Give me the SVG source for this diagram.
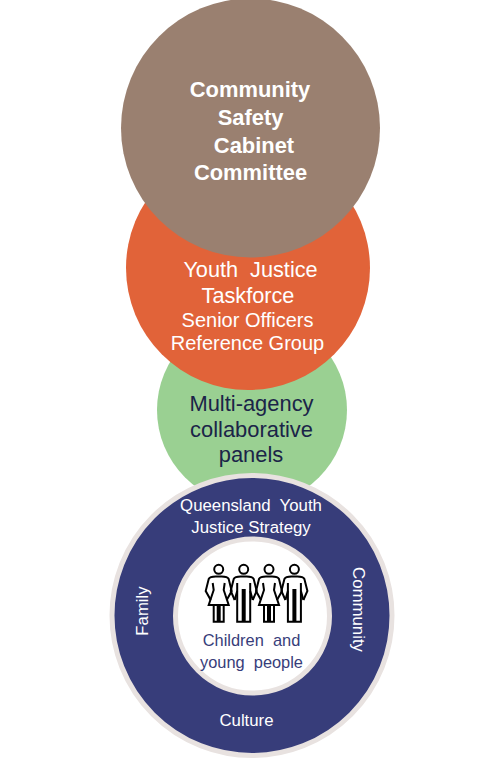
<svg xmlns="http://www.w3.org/2000/svg" width="496" height="759" viewBox="0 0 496 759">
<style>
text{font-family:"Liberation Sans",Arial,sans-serif;text-anchor:middle;white-space:pre}
.w{fill:#fff}
.b{font-weight:700;font-size:21.900px}
.o{font-size:21.700px}
.s{font-size:20px}
.g{font-size:21.900px;fill:#1b2448}
.r{font-size:16.800px;fill:#fff}
.c{font-size:16.400px;fill:#373d7a}
.p{fill:none;stroke:#000;stroke-width:2;stroke-linejoin:miter}
</style>
<defs>
<g id="girl" class="p">
<circle cx="0" cy="-22.700" r="4.500"/>
<path d="M-8,8L-13,-1L-10,-13C-9,-15 -6,-15.500 -3,-15.500H3C6,-15.500 9,-15 10,-13L13,-1L8,8"/>
<path d="M-6,-9L-5,-2L-10,13H10L5,-2L6,-9"/>
<path d="M-5,13V29.700H5V13M-1,13V29.700M1,13V29.700"/>
</g>
<g id="boy" class="p">
<circle cx="0" cy="-22.700" r="4.500"/>
<path d="M-9,8L-13,-1L-10,-13C-9,-15 -6,-15.500 -3,-15.500H3C6,-15.500 9,-15 10,-13L13,-1L9,8"/>
<path d="M-9,8L-6.500,-1M9,8L6.500,-1"/>
<path d="M-6.500,-9V29.700H-1V-2H1V29.700H6.500V-9"/>
</g>
</defs>
<rect width="496" height="759" fill="#fff"/>
<g id="panels"><circle cx="252" cy="410" r="95" fill="#9ad092"/></g>
<g id="taskforce"><circle cx="248" cy="268" r="122" fill="#e16339"/></g>
<g id="cabinet"><circle cx="250.500" cy="128" r="129.500" fill="#9a8070"/>
<text class="b w" x="250" y="97">Community</text>
<text class="b w" x="250.500" y="125">Safety</text>
<text class="b w" x="254" y="153">Cabinet</text>
<text class="b w" x="250.500" y="180">Committee</text></g>
<g id="taskforce-label">
<text class="o w" x="250.500" y="277">Youth  Justice</text>
<text class="o w" x="248" y="303">Taskforce</text>
<text class="s w" x="247.500" y="327">Senior Officers</text>
<text class="s w" x="247.500" y="350">Reference Group</text></g>
<g id="panels-label">
<text class="g" x="251.500" y="411">Multi-agency</text>
<text class="g" x="251.500" y="437">collaborative</text>
<text class="g" x="251" y="462">panels</text></g>
<g id="strategy"><circle cx="252" cy="615.500" r="140" fill="#373d7a" stroke="#e8e2e0" stroke-width="5"/>
<text class="r" x="251" y="511">Queensland  Youth</text>
<text class="r" x="251" y="533">Justice Strategy</text>
<text class="r" x="246.500" y="726">Culture</text>
<text class="r" transform="translate(148,611) rotate(-90)">Family</text>
<text class="r" transform="translate(353,609.500) rotate(90)">Community</text></g>
<g id="children"><circle cx="252.500" cy="616" r="77" fill="#fff" stroke="#e8e2e0" stroke-width="5"/>
<use href="#girl" x="218.700" y="592"/>
<use href="#boy" x="243.700" y="592"/>
<use href="#girl" x="269" y="592"/>
<use href="#boy" x="294.400" y="592"/>
<text class="c" x="251.500" y="646">Children  and</text>
<text class="c" x="251.500" y="668">young  people</text></g>
<g id="connectors"/>
</svg>
